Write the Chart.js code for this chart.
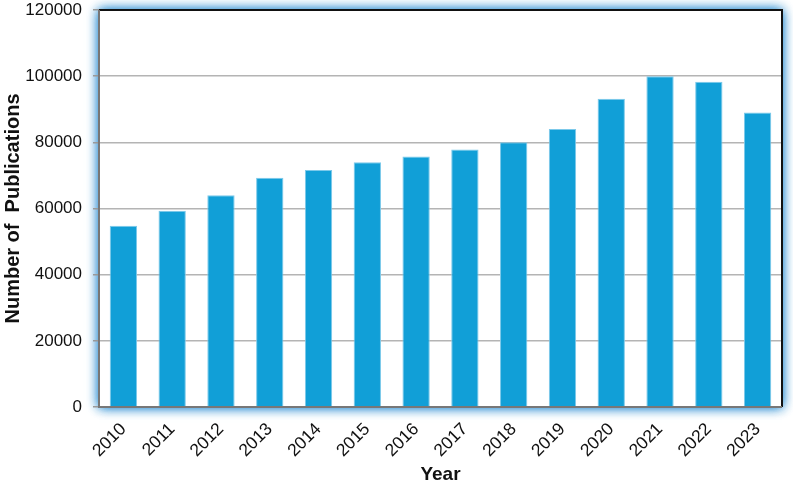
<!DOCTYPE html>
<html>
<head>
<meta charset="utf-8">
<script src="https://cdn.jsdelivr.net/npm/chart.js@4"></script>
<style>
  html, body { margin: 0; padding: 0; background: #fff; }
  #wrap { width: 793px; height: 486px; }
</style>
</head>
<body>
<div id="wrap"><canvas id="barChart" width="793" height="486"></canvas></div>
<script>
const years = ['2010', '2011', '2012', '2013', '2014', '2015', '2016',
               '2017', '2018', '2019', '2020', '2021', '2022', '2023'];
const publications = [54800, 59300, 64000, 69300, 71600, 74000, 75700,
                      77800, 80000, 84000, 93200, 100000, 98300, 89000];
const yTicks = [0, 20000, 40000, 60000, 80000, 100000, 120000];

const fontFamily = 'Liberation Sans, Arial, sans-serif';

// blue glow behind the plot area and the dark frame around it
const frame = {
    id: 'frame',
    beforeDraw(chart) {
        const { ctx, chartArea: a } = chart;
        ctx.save();
        ctx.shadowColor = 'rgba(40, 140, 210, 0.95)';
        ctx.shadowBlur = 11;
        ctx.fillStyle = '#fff';
        ctx.fillRect(a.left, a.top, a.right - a.left, a.bottom - a.top);
        ctx.fillRect(a.left, a.top, a.right - a.left, a.bottom - a.top);
        ctx.restore();
    },
    afterDatasetsDraw(chart) {
        const { ctx, chartArea: a } = chart;
        ctx.save();
        ctx.lineWidth = 2;
        ctx.strokeStyle = '#111';
        ctx.beginPath();
        ctx.moveTo(a.left, a.top);
        ctx.lineTo(a.right, a.top);
        ctx.lineTo(a.right, a.bottom);
        ctx.stroke();
        ctx.strokeStyle = '#777';
        ctx.beginPath();
        ctx.moveTo(a.left, a.top);
        ctx.lineTo(a.left, a.bottom);
        ctx.lineTo(a.right, a.bottom);
        ctx.stroke();
        ctx.restore();
    }
};

const ctx = document.getElementById('barChart').getContext('2d');
new Chart(ctx, {
    type: 'bar',
    data: {
        labels: years,
        datasets: [{
            label: 'Publications',
            data: publications,
            backgroundColor: '#119fd7',
            borderColor: '#7cc9ea',
            borderWidth: 1,
            barPercentage: 0.56,
            categoryPercentage: 1
        }]
    },
    options: {
        responsive: false,
        animation: false,
        layout: { padding: { top: 10, right: 11, left: 0, bottom: 0 } },
        plugins: {
            legend: { display: false },
            tooltip: { enabled: false }
        },
        scales: {
            x: {
                afterFit(scale) {
                    scale.height = 79;
                    scale.paddingLeft = 0;
                    scale.paddingRight = 0;
                },
                grid: { display: false, drawTicks: false },
                border: { display: false },
                ticks: {
                    color: '#111',
                    font: { family: fontFamily, size: 17.5 },
                    maxRotation: 45,
                    minRotation: 45,
                    padding: 12
                },
                title: {
                    display: true,
                    text: 'Year',
                    color: '#111',
                    font: { family: fontFamily, size: 19, weight: 'bold' },
                    padding: { top: 0, bottom: 0 }
                }
            },
            y: {
                min: 0,
                max: 120000,
                afterBuildTicks(axis) {
                    axis.ticks = yTicks.map(v => ({ value: v }));
                },
                afterFit(scale) {
                    scale.width = 99;
                    scale.paddingTop = 0;
                    scale.paddingBottom = 0;
                },
                grid: {
                    color: '#b4b4b4',
                    lineWidth: 1.5,
                    tickLength: 6,
                    tickColor: '#999'
                },
                border: { display: false },
                ticks: {
                    color: '#111',
                    font: { family: fontFamily, size: 17 },
                    padding: 11,
                    callback: v => String(v)
                },
                title: {
                    display: true,
                    text: 'Number of  Publications',
                    color: '#111',
                    font: { family: fontFamily, size: 20, weight: 'bold' },
                    padding: { top: 1, bottom: 0 }
                }
            }
        }
    },
    plugins: [frame]
});
</script>
</body>
</html>
